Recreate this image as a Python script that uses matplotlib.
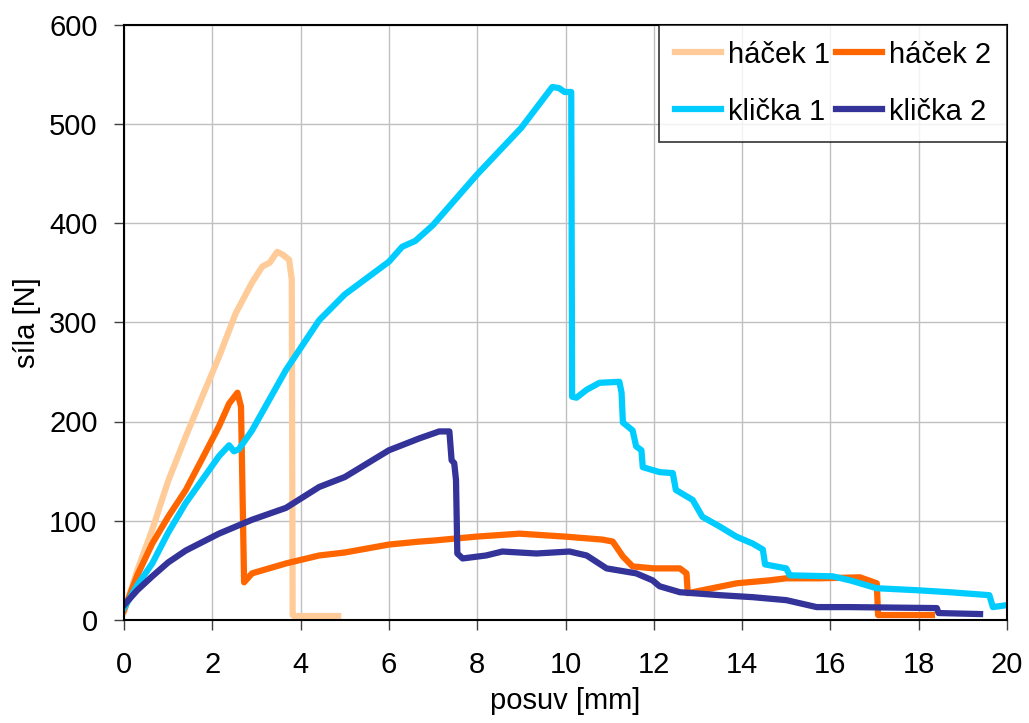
import matplotlib.pyplot as plt
import numpy as np

plt.rcParams['font.family'] = ['Liberation Sans', 'DejaVu Sans']

# hacek 1
h1_x = [0, 0.3, 0.64, 1.0, 1.4, 1.8, 2.15, 2.53, 2.9, 3.13, 3.3, 3.47, 3.6, 3.74, 3.8, 3.82, 3.85, 4.2, 4.85]
h1_y = [8, 50, 91, 140, 185, 228, 265, 309, 340, 356, 360, 371, 368, 363, 343, 5, 4, 4, 4]

# hacek 2
h2_x = [0, 0.3, 0.64, 1.0, 1.4, 1.8, 2.15, 2.38, 2.57, 2.65, 2.67, 2.72, 2.9, 3.67, 4.42, 5.0, 6.0,
        6.69, 7.0, 7.98, 8.96, 10.0, 10.84, 11.07, 11.3, 11.52, 12.0, 12.59, 12.74, 12.77, 13.1,
        13.88, 14.63, 15.0, 15.76, 16.67, 17.05, 17.08, 18.3]
h2_y = [10, 45, 77, 104, 131, 165, 195, 218, 229, 215, 165, 38, 47, 57, 65, 68, 76,
        79, 80, 84, 87, 84, 81, 79, 64, 54, 52, 52, 47, 27, 30,
        37, 40, 42, 42, 43, 37, 5, 5]

# klicka 1
k1_x = [0, 0.3, 0.64, 1.0, 1.4, 1.8, 2.15, 2.38, 2.49, 2.6, 2.9, 3.67, 4.42, 5.0, 6.0, 6.3, 6.6,
        7.0, 8.0, 9.0, 9.7, 9.85, 9.98, 10.13, 10.15, 10.25, 10.48, 10.77, 11.22, 11.27,
        11.3, 11.52, 11.6, 11.72, 11.75, 12.13, 12.43, 12.5, 12.88, 13.1, 13.5, 13.87,
        14.24, 14.47, 14.52, 15.0, 15.08, 16.05, 16.44, 17.05, 17.96, 18.7, 19.6, 19.68, 20.0]
k1_y = [12, 35, 57, 88, 118, 143, 165, 176, 170, 172, 191, 252, 302, 328, 361, 376, 382,
        398, 449, 496, 537, 536, 532, 532, 225, 224, 232, 239, 240, 229,
        199, 191, 175, 171, 154, 149, 148, 131, 121, 104, 94, 84,
        77, 71, 56, 52, 45, 44, 40, 32, 30, 28, 25, 13, 15]

# klicka 2
k2_x = [0, 0.3, 0.64, 1.0, 1.4, 2.15, 2.9, 3.67, 4.42, 5.0, 6.0, 6.69, 7.14, 7.37, 7.42, 7.48,
        7.52, 7.55, 7.67, 8.2, 8.57, 9.34, 10.09, 10.48, 10.93, 11.6, 11.97, 12.13, 12.59,
        13.5, 14.24, 15.0, 15.69, 16.44, 18.41, 18.45, 19.39]
k2_y = [15, 30, 44, 58, 70, 87, 101, 113, 134, 144, 171, 183, 190, 190, 161, 158,
        141, 67, 62, 65, 69, 67, 69, 65, 52, 47, 40, 34, 28,
        25, 23, 20, 13, 13, 12, 7, 6]

series = [
    ('háček 1', h1_x, h1_y, '#FFCC99'),
    ('háček 2', h2_x, h2_y, '#FF6600'),
    ('klička 1', k1_x, k1_y, '#00CCFF'),
    ('klička 2', k2_x, k2_y, '#333399'),
]

fig = plt.figure(figsize=(10.29, 7.23), dpi=100)
ax = fig.add_axes([124 / 1029, 1 - 620 / 723, (1007 - 124) / 1029, (620 - 24.5) / 723])

lines = {}
for label, x, y, colour in series:
    lines[label], = ax.plot(x, y, color=colour, linewidth=4.5, label=label,
                            solid_joinstyle='round')

ax.set_xlim(0, 20)
ax.set_ylim(0, 600)
ax.set_xticks(np.arange(0, 21, 2))
ax.set_yticks(np.arange(0, 601, 100))
ax.grid(True, color='#C0C0C0', linewidth=1)
ax.set_axisbelow(True)
for s in ax.spines.values():
    s.set_color('black')
    s.set_linewidth(1.5)
ax.tick_params(direction='out', length=7, width=1, color='#404040', labelsize=21)
ax.tick_params(axis='x', pad=15)
ax.tick_params(axis='y', pad=12)

ax.set_xlabel('posuv [mm]', fontsize=21, labelpad=6)
ax.set_ylabel('síla [N]', fontsize=21, labelpad=6)

# column-major fill: first column háček 1 / klička 1, second háček 2 / klička 2
order = ['háček 1', 'klička 1', 'háček 2', 'klička 2']
leg = ax.legend([lines[k] for k in order], order, loc='upper right', ncol=2, fontsize=21,
                frameon=True, fancybox=False, borderaxespad=0, handlelength=1.6,
                handletextpad=0.22, columnspacing=0.2, labelspacing=1.0, borderpad=0.55)
leg.get_frame().set_edgecolor('black')
leg.get_frame().set_linewidth(1.2)

fig.savefig('out.png', dpi=100)
